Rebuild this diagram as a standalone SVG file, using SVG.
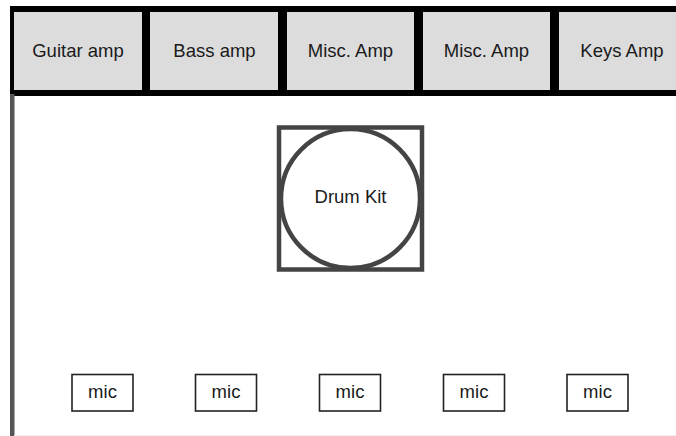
<svg xmlns="http://www.w3.org/2000/svg" width="676" height="436" viewBox="0 0 676 436">
<style>
text{font-family:"Liberation Sans",Arial,sans-serif;font-size:18.5px;fill:#1a1a1a;text-anchor:middle}
.amp{fill:#dcdcdc;stroke:none}
.mic{fill:#fff;stroke:#222;stroke-width:1.6}
</style>
<rect x="0" y="0" width="676" height="436" fill="#fff"/>
<g id="stage-wall">
<rect x="10" y="6" width="680" height="90" fill="#000"/>
<rect x="10" y="94" width="4.5" height="342" fill="#555"/>
<line x1="14" y1="435.5" x2="676" y2="435.5" stroke="#eee" stroke-width="1"/>
</g>
<g id="guitar-amp"><rect class="amp" x="14" y="12" width="128" height="78"/><text x="78" y="57">Guitar amp</text></g>
<g id="bass-amp"><rect class="amp" x="150" y="12" width="128" height="78"/><text x="214.5" y="57">Bass amp</text></g>
<g id="misc-amp-1"><rect class="amp" x="287" y="12" width="127" height="78"/><text x="350.5" y="57">Misc. Amp</text></g>
<g id="misc-amp-2"><rect class="amp" x="423" y="12" width="127" height="78"/><text x="486.5" y="57">Misc. Amp</text></g>
<g id="keys-amp"><rect class="amp" x="559" y="12" width="128" height="78"/><text x="622" y="57">Keys Amp</text></g>
<g id="drum-kit">
<rect x="279" y="127.5" width="143" height="142" fill="#fff" stroke="#444" stroke-width="4.5"/>
<circle cx="350.5" cy="198.5" r="69.5" fill="#fff" stroke="#444" stroke-width="4.5"/>
<text x="350.5" y="203">Drum Kit</text>
</g>
<g id="mic-1"><rect class="mic" x="72" y="374.5" width="61" height="36.5"/><text x="102.5" y="398">mic</text></g>
<g id="mic-2"><rect class="mic" x="195.5" y="374.5" width="61" height="36.5"/><text x="226" y="398">mic</text></g>
<g id="mic-3"><rect class="mic" x="319.5" y="374.5" width="61" height="36.5"/><text x="350" y="398">mic</text></g>
<g id="mic-4"><rect class="mic" x="443.5" y="374.5" width="61" height="36.5"/><text x="474" y="398">mic</text></g>
<g id="mic-5"><rect class="mic" x="567" y="374.5" width="61" height="36.5"/><text x="597.5" y="398">mic</text></g>
<g id="connectors"></g>
</svg>
